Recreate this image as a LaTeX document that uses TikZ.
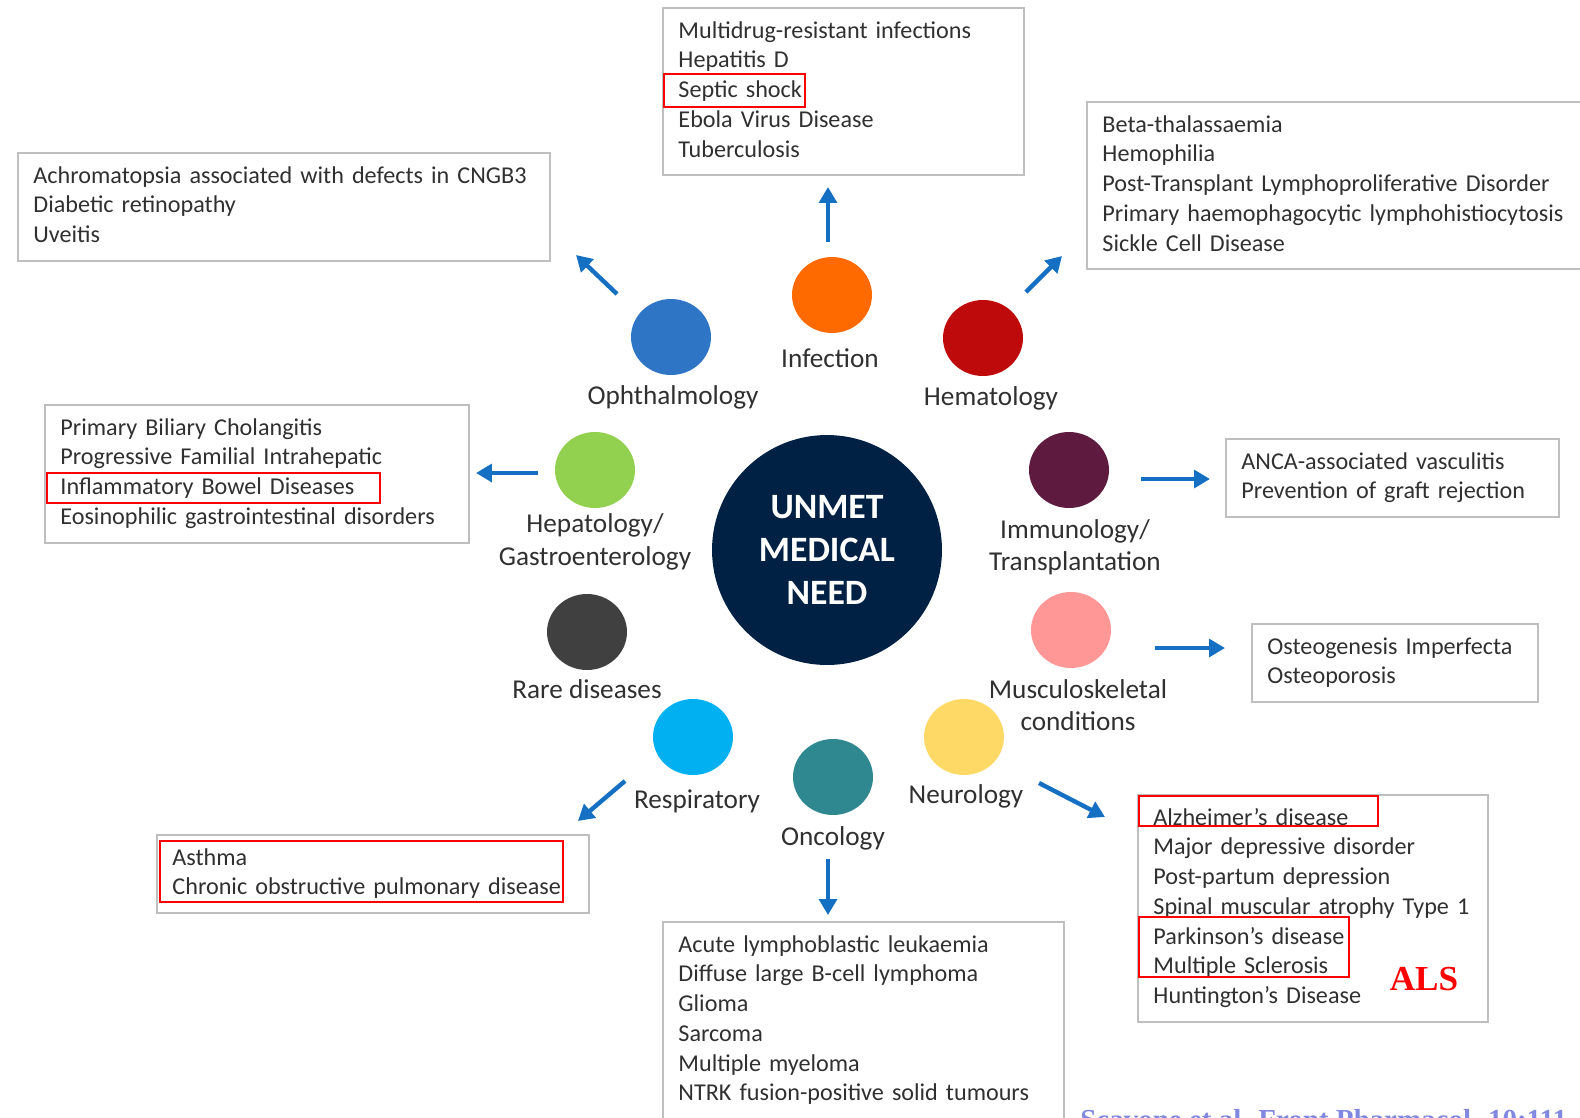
\documentclass[tikz,border=0pt]{standalone}
\usepackage{fontspec}
\setmainfont{Carlito}
\newfontfamily\serifbold{Liberation Serif}
\usetikzlibrary{arrows.meta,shapes.geometric}

\definecolor{needblue}{HTML}{012144}
\definecolor{infcol}{HTML}{FF6A00}
\definecolor{ophcol}{HTML}{2E75C6}
\definecolor{hemcol}{HTML}{BE0A0A}
\definecolor{hepcol}{HTML}{92D050}
\definecolor{immcol}{HTML}{5E1B3F}
\definecolor{rarecol}{HTML}{404040}
\definecolor{muscol}{HTML}{FF9797}
\definecolor{respcol}{HTML}{00B0F0}
\definecolor{onccol}{HTML}{2F878F}
\definecolor{neucol}{HTML}{FFD966}
\definecolor{arrowcol}{HTML}{1570C4}
\definecolor{boxgray}{HTML}{BFBFBF}
\definecolor{txtgray}{HTML}{303030}
\definecolor{citecol}{HTML}{8088E0}

\begin{document}
\begin{tikzpicture}[x=0.02cm, y=-0.02cm,
    dot/.style={ellipse, minimum width=1.6cm, minimum height=1.52cm, inner sep=0pt},
    areaname/.style={text=txtgray, align=center, font=\fontsize{15.5}{18.5}\selectfont},
    listbox/.style={draw=boxgray, line width=1.1pt, anchor=north west, align=left,
        inner xsep=0.31cm, inner ysep=0.19cm, text=txtgray,
        font=\fontsize{13.75}{16.9}\selectfont,
        execute at begin node=\strut, execute at end node=\strut},
    hilite/.style={draw=red, line width=1.1pt},
    pointer/.style={draw=arrowcol, line width=2.5pt, -{Triangle[length=9pt,width=10pt]}}]
    \path[use as bounding box, clip] (0,0) rectangle (1580,1117);

    % centre
    \node[circle, fill=needblue, minimum size=4.6cm, inner sep=0pt, text=white, align=center,
        font=\bfseries\fontsize{20.3}{24.7}\selectfont] (need) at (827,550) {UNMET\\MEDICAL\\NEED};

    % areas
    \node[dot, fill=infcol] (inf) at (832,295) {};
    \node[dot, fill=ophcol] (oph) at (671,337) {};
    \node[dot, fill=hemcol] (hem) at (983,338) {};
    \node[dot, fill=hepcol] (hep) at (595,470) {};
    \node[dot, fill=immcol] (imm) at (1069,470) {};
    \node[dot, fill=rarecol] (rare) at (587,632) {};
    \node[dot, fill=muscol] (mus) at (1071,630) {};
    \node[dot, fill=respcol] (resp) at (693,737) {};
    \node[dot, fill=onccol] (onc) at (833,777) {};
    \node[dot, fill=neucol] (neu) at (964,737) {};

    \node[areaname] (infname) at (830,358) {Infection};
    \node[areaname] (ophname) at (673,397) {Ophthalmology};
    \node[areaname] (hemname) at (991,398) {Hematology};
    \node[areaname] (hepname) at (595,542) {Hepatology/\\Gastroenterology};
    \node[areaname] (immname) at (1075,547) {Immunology/\\Transplantation};
    \node[areaname] (rarename) at (587,689) {Rare diseases};
    \node[areaname] (musname) at (1078,705) {Musculoskeletal\\conditions};
    \node[areaname] (respname) at (697,801) {Respiratory};
    \node[areaname] (oncname) at (833,838) {Oncology};
    \node[areaname] (neuname) at (966,796) {Neurology};

    % lists
    \node[listbox, text width=6.6cm] (infbox) at (662,7)
        {Multidrug-resistant infections\\Hepatitis D\\Septic shock\\Ebola Virus Disease\\Tuberculosis};
    \node[listbox, text width=10.02cm] (ophbox) at (17,152)
        {Achromatopsia associated with defects in CNGB3\\Diabetic retinopathy\\Uveitis};
    \node[listbox, text width=10.58cm] (hembox) at (1086,101)
        {Beta-thalassaemia\\Hemophilia\\Post-Transplant Lymphoproliferative Disorder\\Primary haemophagocytic lymphohistiocytosis\\Sickle Cell Disease};
    \node[listbox, text width=7.86cm] (hepbox) at (44,404)
        {Primary Biliary Cholangitis\\Progressive Familial Intrahepatic\\Inflammatory Bowel Diseases\\Eosinophilic gastrointestinal disorders};
    \node[listbox, text width=6.04cm] (immbox) at (1225,438)
        {ANCA-associated vasculitis\\Prevention of graft rejection};
    \node[listbox, text width=5.1cm] (musbox) at (1251,623)
        {Osteogenesis Imperfecta\\Osteoporosis};
    \node[listbox, text width=6.38cm] (neubox) at (1137,794)
        {Alzheimer’s disease\\Major depressive disorder\\Post-partum depression\\Spinal muscular atrophy Type 1\\Parkinson’s disease\\Multiple Sclerosis\\Huntington’s Disease};
    \node[listbox, text width=8.02cm] (respbox) at (156,834)
        {Asthma\\Chronic obstructive pulmonary disease};
    \node[listbox, text width=7.4cm] (oncbox) at (662,921)
        {Acute lymphoblastic leukaemia\\Diffuse large B-cell lymphoma\\Glioma\\Sarcoma\\Multiple myeloma\\NTRK fusion-positive solid tumours\\ \mbox{}};

    % highlights
    \draw[hilite] (664,74) rectangle (805,107);
    \draw[hilite] (47,473) rectangle (380,503);
    \draw[hilite] (1139,796) rectangle (1378,826);
    \draw[hilite] (1139,917) rectangle (1349,977);
    \draw[hilite] (160,841) rectangle (563,902);
    \node[text=red, inner sep=0pt, font=\serifbold\bfseries\fontsize{20}{24}\selectfont] (als) at (1424,979) {ALS};

    % arrows
    \coordinate (infA) at (828,242); \coordinate (infB) at (828,187);
    \coordinate (ophA) at (617,294); \coordinate (ophB) at (576,255);
    \coordinate (hemA) at (1026,292); \coordinate (hemB) at (1062,256);
    \coordinate (hepA) at (538,473); \coordinate (hepB) at (476,473);
    \coordinate (immA) at (1141,479); \coordinate (immB) at (1210,479);
    \coordinate (musA) at (1155,648); \coordinate (musB) at (1225,648);
    \coordinate (neuA) at (1039,783); \coordinate (neuB) at (1105,817);
    \coordinate (respA) at (625,781); \coordinate (respB) at (578,821);
    \coordinate (oncA) at (828,859); \coordinate (oncB) at (828,915);
    \draw[pointer] (infA) -- (infB);
    \draw[pointer] (ophA) -- (ophB);
    \draw[pointer] (hemA) -- (hemB);
    \draw[pointer] (hepA) -- (hepB);
    \draw[pointer] (immA) -- (immB);
    \draw[pointer] (musA) -- (musB);
    \draw[pointer] (neuA) -- (neuB);
    \draw[pointer] (respA) -- (respB);
    \draw[pointer] (oncA) -- (oncB);

    \node[anchor=north west, inner sep=0pt, text=citecol,
        font=\serifbold\bfseries\fontsize{16.5}{19}\selectfont] (cite) at (1080,1109)
        {Scavone et al. Front Pharmacol. 10:111};
\end{tikzpicture}
\end{document}
